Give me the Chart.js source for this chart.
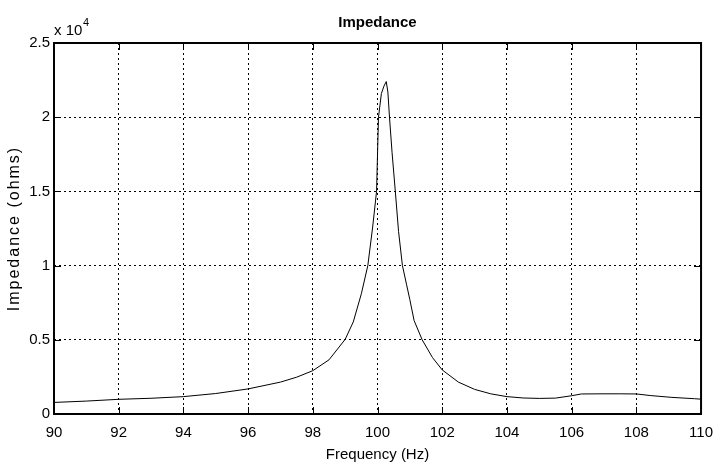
<!DOCTYPE html>
<html>
<head>
<meta charset="utf-8">
<script src="https://cdn.jsdelivr.net/npm/chart.js@4"></script>
<style>
  html, body { margin: 0; padding: 0; background: #fff; }
  #wrap { width: 723px; height: 466px; }
</style>
</head>
<body>
<div id="wrap"><canvas id="impedanceChart" width="723" height="466"></canvas></div>
<script>
// frequency (Hz) and impedance (ohms)
const freqs = [90, 91, 92, 93, 94, 95, 96, 97, 97.5, 98, 98.5, 99, 99.25, 99.5, 99.7, 99.85, 99.97,
  100.03, 100.12, 100.2, 100.27, 100.32, 100.37, 100.45, 100.55, 100.65, 100.77, 100.9, 101, 101.13,
  101.38, 101.7, 102, 102.5, 103, 103.5, 104, 104.5, 105, 105.5, 106, 106.3, 107, 107.5, 108, 108.45,
  109.1, 109.8, 110];
const impedance = [780, 870, 990, 1060, 1170, 1380, 1690, 2150, 2480, 2920, 3650, 5030, 6200, 8100, 10000, 12600, 15000,
  20000, 21600, 22100, 22400, 21700, 20000, 17600, 15000, 12300, 10000, 8700, 7700, 6300,
  5000, 3800, 2970, 2150, 1660, 1360, 1170, 1080, 1050, 1070, 1230, 1350, 1360, 1360, 1350, 1240,
  1120, 1030, 1000];
const xTicks = [90, 92, 94, 96, 98, 100, 102, 104, 106, 108, 110];
const yTicks = [0, 5000, 10000, 15000, 20000, 25000];

const FONT = '"Liberation Sans", Arial, sans-serif';

const points = freqs.map((f, i) => ({ x: f, y: impedance[i] }));

// box, inner ticks and texts, matlab style
const matlabFrame = {
  id: 'matlabFrame',
  afterDraw(chart) {
    const ctx = chart.ctx;
    const a = chart.chartArea;
    const xs = chart.scales.x, ys = chart.scales.y;
    ctx.save();
    ctx.strokeStyle = '#000';
    ctx.lineWidth = 1;
    ctx.beginPath();
    xTicks.forEach(t => {
      const px = Math.round(xs.getPixelForValue(t)) + 0.5;
      ctx.moveTo(px, a.bottom); ctx.lineTo(px, a.bottom - 7);
      ctx.moveTo(px, a.top); ctx.lineTo(px, a.top + 7);
    });
    yTicks.forEach(t => {
      const py = Math.round(ys.getPixelForValue(t)) + 0.5;
      ctx.moveTo(a.left, py); ctx.lineTo(a.left + 7, py);
      ctx.moveTo(a.right, py); ctx.lineTo(a.right - 7, py);
    });
    ctx.stroke();
    ctx.lineWidth = 2;
    ctx.strokeRect(a.left, a.top, a.right - a.left, a.bottom - a.top);

    ctx.fillStyle = '#000';
    // title
    ctx.font = 'bold 15px ' + FONT;
    ctx.textAlign = 'center';
    ctx.textBaseline = 'middle';
    ctx.fillText('Impedance', (a.left + a.right) / 2, 23);
    // x label
    ctx.font = '15px ' + FONT;
    ctx.fillText('Frequency (Hz)', (a.left + a.right) / 2, 455);
    // y label
    ctx.save();
    ctx.translate(15, (a.top + a.bottom) / 2);
    ctx.rotate(-Math.PI / 2);
    ctx.font = '16px ' + FONT;
    ctx.letterSpacing = '2px';
    ctx.fillText('Impedance (ohms)', 0, 0);
    ctx.restore();
    // exponent
    ctx.textAlign = 'left';
    ctx.textBaseline = 'alphabetic';
    ctx.font = '15px ' + FONT;
    ctx.fillText('x 10', 54, 35);
    ctx.font = '11px ' + FONT;
    ctx.fillText('4', 83, 26);
    ctx.restore();
  }
};

new Chart(document.getElementById('impedanceChart').getContext('2d'), {
  type: 'line',
  data: {
    datasets: [{
      data: points,
      borderColor: '#000',
      borderWidth: 1,
      pointRadius: 0,
      tension: 0,
      fill: false
    }]
  },
  options: {
    responsive: false,
    animation: false,
    layout: { padding: { top: 43, right: 13, left: 0, bottom: 0 } },
    plugins: { legend: { display: false }, tooltip: { enabled: false }, title: { display: false } },
    scales: {
      x: {
        type: 'linear',
        min: 90, max: 110,
        afterBuildTicks: s => { s.ticks = xTicks.map(v => ({ value: v })); },
        afterFit: s => { s.height = 52; },
        grid: { color: '#000', lineWidth: 1, drawTicks: false },
        border: { display: false, dash: [2, 3] },
        ticks: { color: '#000', padding: 10, maxRotation: 0, font: { family: FONT, size: 15 } }
      },
      y: {
        min: 0, max: 25000,
        afterBuildTicks: s => { s.ticks = yTicks.map(v => ({ value: v })); },
        afterFit: s => { s.width = 54; },
        grid: { color: '#000', lineWidth: 1, drawTicks: false },
        border: { display: false, dash: [2, 3] },
        ticks: { color: '#000', padding: 4, font: { family: FONT, size: 15 }, callback: v => String(v / 10000) }
      }
    }
  },
  plugins: [matlabFrame]
});
</script>
</body>
</html>
